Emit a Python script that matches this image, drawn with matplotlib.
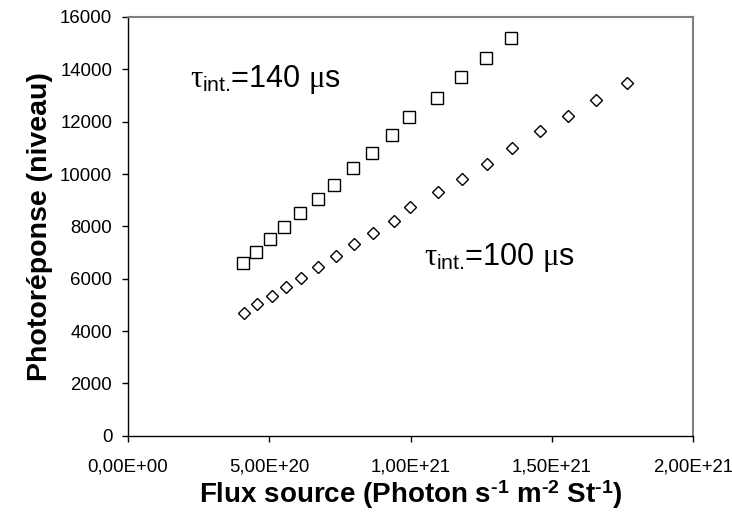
import matplotlib
matplotlib.use("Agg")
import matplotlib.pyplot as plt

plt.rcParams['font.family'] = ['Liberation Sans', 'DejaVu Sans']
plt.rcParams['mathtext.fontset'] = 'custom'
plt.rcParams['mathtext.rm'] = 'Liberation Sans:bold'
plt.rcParams['mathtext.bf'] = 'Liberation Sans:bold'
plt.rcParams['mathtext.sf'] = 'Liberation Sans'
plt.rcParams['mathtext.it'] = 'Liberation Serif'

# Data (flux in photon s-1 m-2 St-1, response in levels)
flux_140 = [4.07e20, 4.52e20, 5.04e20, 5.52e20, 6.09e20, 6.71e20, 7.28e20, 7.96e20,
            8.63e20, 9.36e20, 9.96e20, 1.093e21, 1.178e21, 1.268e21, 1.357e21]
resp_140 = [6606, 7003, 7499, 7957, 8492, 9026, 9572, 10222,
            10806, 11493, 12188, 12921, 13708, 14433, 15212]

flux_100 = [4.10e20, 4.57e20, 5.09e20, 5.58e20, 6.14e20, 6.74e20, 7.35e20, 7.99e20,
            8.67e20, 9.40e20, 9.99e20, 1.098e21, 1.183e21, 1.270e21, 1.361e21,
            1.459e21, 1.557e21, 1.658e21, 1.768e21]
resp_100 = [4673, 5017, 5323, 5689, 6033, 6453, 6873, 7308,
            7728, 8209, 8744, 9294, 9813, 10401, 10997,
            11646, 12234, 12818, 13494]

xticks = [0, 5e20, 1e21, 1.5e21, 2e21]
xtick_labels = ['0,00E+00', '5,00E+20', '1,00E+21', '1,50E+21', '2,00E+21']
yticks = [0, 2000, 4000, 6000, 8000, 10000, 12000, 14000, 16000]
ytick_labels = ['0', '2000', '4000', '6000', '8000', '10000', '12000', '14000', '16000']

fig = plt.figure(figsize=(7.32, 5.24), dpi=100)
ax = fig.add_axes([0.1749, 0.1685, 0.7718, 0.7991])

ax.plot(flux_140, resp_140, linestyle='none', marker='s', markersize=8.5,
        markerfacecolor='white', markeredgecolor='black', markeredgewidth=1.0)
ax.plot(flux_100, resp_100, linestyle='none', marker='D', markersize=6.5,
        markerfacecolor='white', markeredgecolor='black', markeredgewidth=1.0)

ax.set_xlim(0, 2e21)
ax.set_ylim(0, 16000)
ax.set_xticks(xticks)
ax.set_xticklabels(xtick_labels)
ax.set_yticks(yticks)
ax.set_yticklabels(ytick_labels)
ax.tick_params(direction='out', length=4.3, width=1, labelsize=13.4, colors='black')
ax.tick_params(axis='y', pad=7)
ax.tick_params(axis='x', pad=12)

for s in ['left', 'bottom']:
    ax.spines[s].set_color('black')
    ax.spines[s].set_linewidth(1.0)
for s in ['top', 'right']:
    ax.spines[s].set_color('#808080')
    ax.spines[s].set_linewidth(1.5)

ax.set_xlabel(r'Flux source (Photon s$^{\text{-1}}$ m$^{\text{-2}}$ St$^{\text{-1}}$)',
              fontsize=20, fontweight='bold', labelpad=2)
ax.set_ylabel('Photoréponse (niveau)', fontsize=20.5, fontweight='bold', labelpad=5)

ax.text(0.110, 0.850, r'$\tau_{\mathsf{int.}}\!$=140 $\mu$s', transform=ax.transAxes,
        fontsize=22, va='center', ha='left')
ax.text(0.524, 0.425, r'$\tau_{\mathsf{int.}}\!$=100 $\mu$s', transform=ax.transAxes,
        fontsize=22, va='center', ha='left')

fig.savefig('out.png', dpi=100)
